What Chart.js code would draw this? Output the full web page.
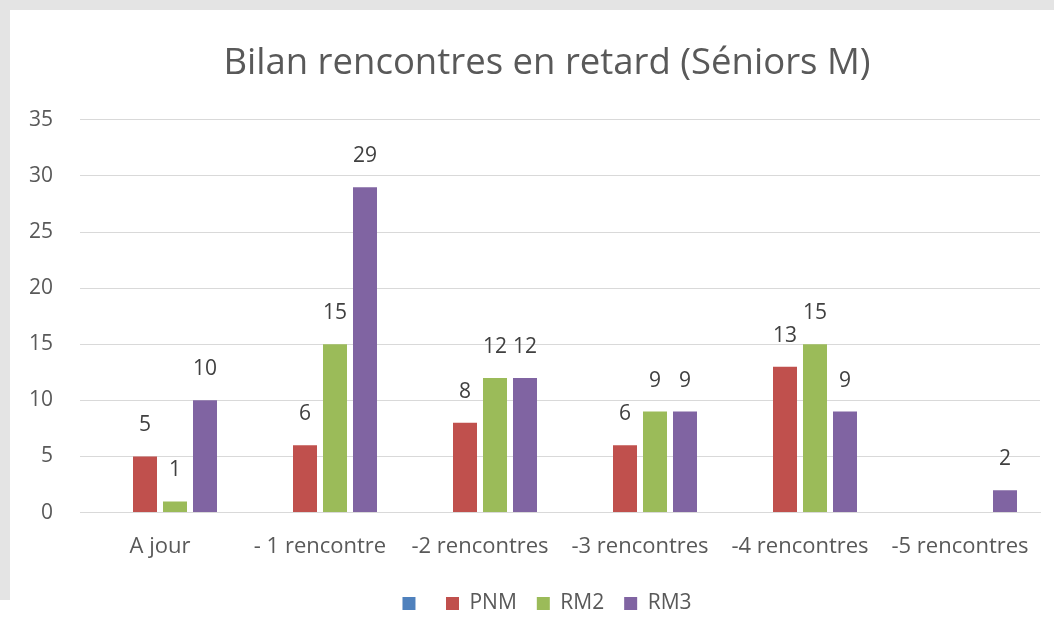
<!DOCTYPE html>
<html>
<head>
<meta charset="utf-8">
<script src="https://cdn.jsdelivr.net/npm/chart.js@4"></script>
<style>
  html, body { margin: 0; padding: 0; }
  body { width: 1054px; height: 644px; background: #e4e4e4; position: relative; overflow: hidden; }
  #box { position: absolute; left: 10px; top: 10px; width: 1044px; height: 634px; background: #fff; }
  #patch { position: absolute; left: 0; top: 600px; width: 10px; height: 44px; background: #fff; }
</style>
</head>
<body>
<div id="patch"></div>
<div id="box"><canvas id="canvas1" width="1044" height="634"></canvas></div>
<script>
const canvas1 = document.getElementById('canvas1');

// categories and series
const categories = ['A jour', '- 1 rencontre', '-2 rencontres', '-3 rencontres', '-4 rencontres', '-5 rencontres'];
const emptySerie = [null, null, null, null, null, null];
const pnm = [5, 6, 8, 6, 13, null];
const rm2 = [1, 15, 12, 9, 15, null];
const rm3 = [10, 29, 12, 9, 9, 2];

const fontFamily = "'Open Sans', 'Noto Sans', sans-serif";

// values written above the bars, like excel does
const valueLabels = {
    id: 'valueLabels',
    afterDatasetsDraw(chart) {
        const ctx = chart.ctx;
        ctx.save();
        ctx.font = '21px ' + fontFamily;
        ctx.fillStyle = '#404040';
        ctx.textAlign = 'center';
        ctx.textBaseline = 'middle';
        chart.data.datasets.forEach((ds, i) => {
            chart.getDatasetMeta(i).data.forEach((bar, j) => {
                const v = ds.data[j];
                if (v === null || v === undefined) return;
                ctx.fillText(v, bar.x, bar.y - 31);
            });
        });
        ctx.restore();
    }
};

new Chart(canvas1, {
    type: 'bar',
    data: {
        labels: categories,
        datasets: [
            { label: '', data: emptySerie, backgroundColor: '#4F81BD' },
            { label: 'PNM', data: pnm, backgroundColor: '#C0504D' },
            { label: 'RM2', data: rm2, backgroundColor: '#9BBB59' },
            { label: 'RM3', data: rm3, backgroundColor: '#8064A2' }
        ]
    },
    options: {
        responsive: false,
        animation: false,
        datasets: {
            bar: {
                categoryPercentage: 0.75,
                barPercentage: 0.8
            }
        },
        // left padding keeps title and legend centred like excel does,
        // y labels are mirrored (not clipped) and pushed back to the left
        layout: {
            padding: { top: 8, left: 44, right: 14, bottom: 20 }
        },
        scales: {
            x: {
                grid: { display: false },
                border: { color: '#d9d9d9' },
                ticks: {
                    color: '#595959',
                    font: { size: 22, family: fontFamily },
                    padding: 13,
                    maxRotation: 0,
                    autoSkip: false
                }
            },
            y: {
                min: 0,
                max: 35,
                afterFit: (scale) => { scale.width = 26; },
                grid: { color: '#d9d9d9', drawTicks: false },
                border: { display: false },
                ticks: {
                    stepSize: 5,
                    mirror: true,
                    crossAlign: 'far',
                    color: '#595959',
                    font: { size: 21, family: fontFamily },
                    padding: -51
                }
            }
        },
        plugins: {
            title: {
                display: true,
                text: 'Bilan rencontres en retard (Séniors M)',
                color: '#595959',
                font: { size: 36.5, weight: 'normal', family: fontFamily },
                padding: { top: 24, bottom: 34 }
            },
            legend: {
                position: 'bottom',
                labels: {
                    color: '#595959',
                    boxWidth: 13,
                    boxHeight: 13,
                    padding: 20,
                    font: { size: 21, family: fontFamily }
                }
            },
            tooltip: { enabled: false }
        }
    },
    plugins: [valueLabels]
});
</script>
</body>
</html>
